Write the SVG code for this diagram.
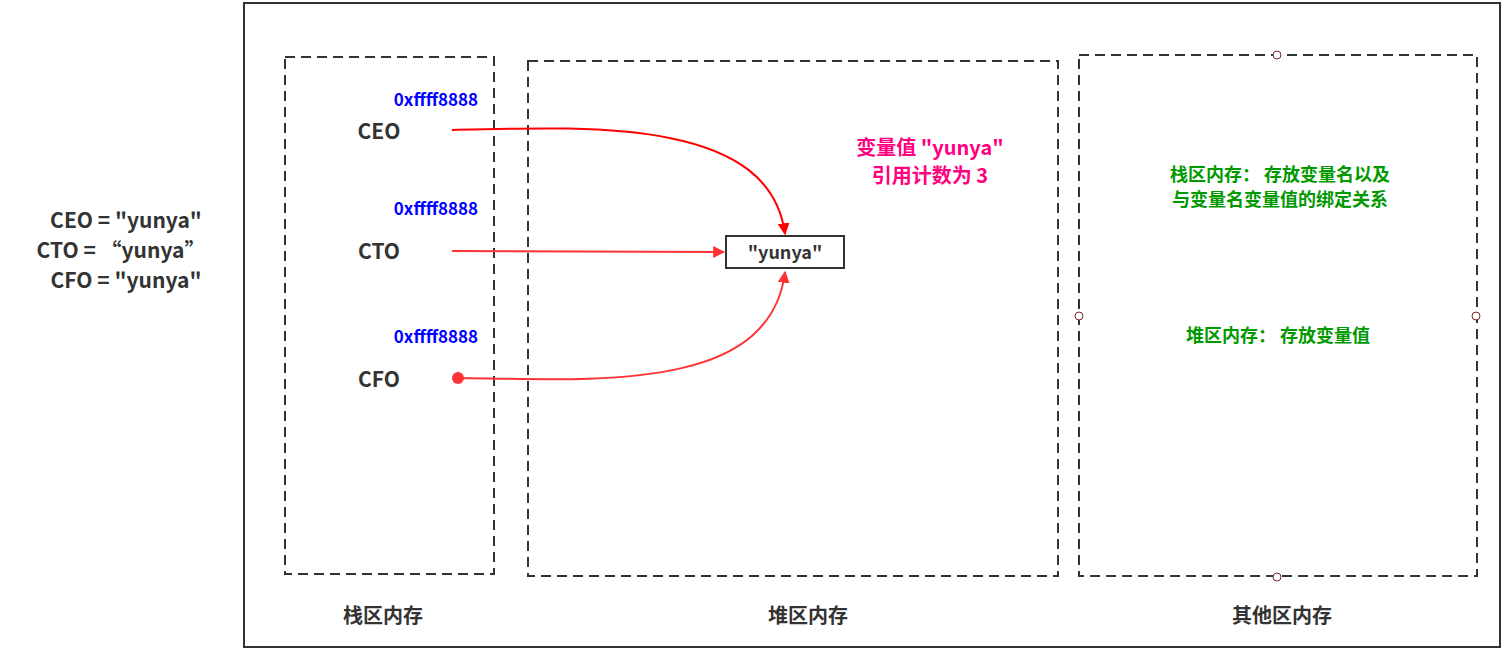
<svg xmlns="http://www.w3.org/2000/svg" width="1509" height="652" viewBox="0 0 1509 652">
<style>
text{font-family:"Noto Sans CJK SC","Liberation Sans",sans-serif;font-weight:bold}
.dash{fill:none;stroke:#333;stroke-width:2;stroke-dasharray:10,6}
.lbl{fill:#333;font-size:20px;text-anchor:middle}
.addr{fill:#0000ff;font-size:17px;text-anchor:end}
.var{fill:#333;font-size:21px;text-anchor:middle}
.g{fill:#009900;font-size:18px;text-anchor:middle}
.h{fill:#fff;stroke:#7a2a2a;stroke-width:1}
</style>
<defs>
<marker id="ar" viewBox="0 0 10 10" refX="9" refY="5" markerWidth="6" markerHeight="6" orient="auto"><path d="M0,0L10,5L0,10z" fill="#ff0000"/></marker>
<marker id="ar2" viewBox="0 0 10 10" refX="9" refY="5" markerWidth="6" markerHeight="6" orient="auto"><path d="M0,0L10,5L0,10z" fill="#ff3333"/></marker>
</defs>
<rect x="0" y="0" width="1509" height="652" fill="#fff"/>
<g id="outer"><rect x="244" y="3" width="1256" height="644" fill="none" stroke="#333" stroke-width="2"/></g>
<g id="left-text">
<text class="var" x="126" y="228">CEO = "yunya"</text>
<text class="var" x="121" y="258">CTO =  “yunya”</text>
<text class="var" x="126" y="288">CFO = "yunya"</text>
</g>
<g id="stack"><rect class="dash" x="285" y="57" width="209" height="517"/>
<text class="lbl" x="383" y="623">栈区内存</text>
<text class="addr" x="478" y="106">0xffff8888</text>
<text class="addr" x="478" y="215">0xffff8888</text>
<text class="addr" x="478" y="343">0xffff8888</text>
<text class="var" x="379" y="139">CEO</text>
<text class="var" x="379" y="259">CTO</text>
<text class="var" x="379" y="387">CFO</text>
</g>
<g id="heap"><rect class="dash" x="528" y="61" width="530" height="515"/>
<text class="lbl" x="808" y="623">堆区内存</text>
<text x="930" y="155" fill="#ff0080" font-size="20" text-anchor="middle">变量值 "yunya"</text>
<text x="930" y="183" fill="#ff0080" font-size="20" text-anchor="middle">引用计数为 3</text>
</g>
<g id="yunya"><rect x="726" y="236" width="118" height="32" fill="#fff" stroke="#333" stroke-width="2"/>
<text x="785" y="259" fill="#333" font-size="18" text-anchor="middle">"yunya"</text></g>
<g id="other"><rect class="dash" x="1079" y="55" width="398" height="521"/>
<text class="lbl" x="1282" y="623">其他区内存</text>
<text class="g" x="1280" y="181">栈区内存：  存放变量名以及</text>
<text class="g" x="1280" y="206">与变量名变量值的绑定关系</text>
<text class="g" x="1278" y="342">堆区内存：  存放变量值</text>
<circle class="h" cx="1277" cy="55" r="4"/><circle class="h" cx="1079" cy="316" r="4"/><circle class="h" cx="1476" cy="316" r="4"/><circle class="h" cx="1277" cy="577" r="4"/>
</g>
<g id="connectors" fill="none" stroke-width="2">
<path d="M452,130 C600,126 770,120 785,234" stroke="#ff0000" marker-end="url(#ar)"/>
<path d="M452,251 L724,252" stroke="#ff3333" marker-end="url(#ar2)"/>
<path d="M458,378 C600,380 770,392 785,272" stroke="#ff3333" marker-end="url(#ar2)"/>
<circle cx="458" cy="378" r="6" fill="#ff3333" stroke="none"/>
</g>
</svg>
